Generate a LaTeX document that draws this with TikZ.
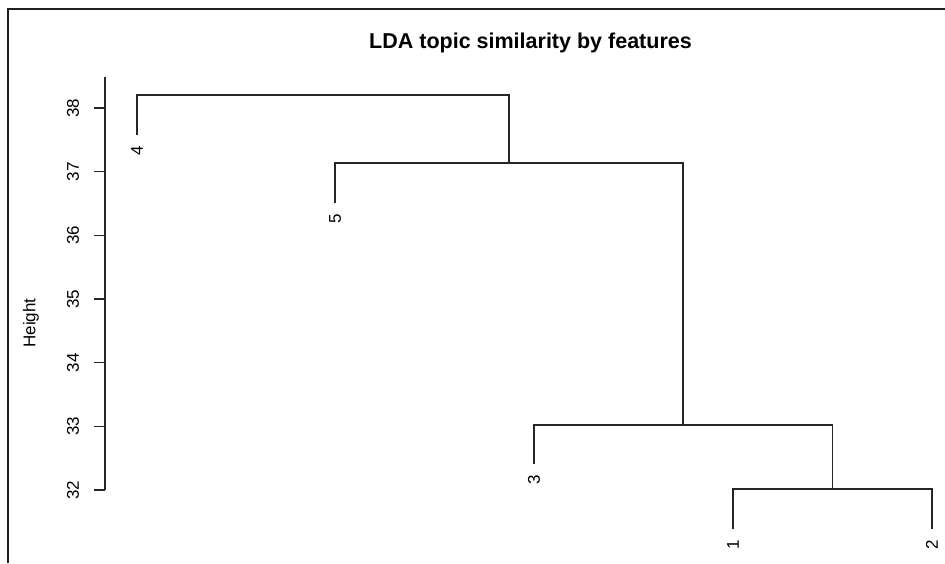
\documentclass[tikz,border=0pt]{standalone}
\usepackage{fontspec}
\setmainfont{Liberation Sans}
\usetikzlibrary{calc}
\tikzset{
  branch/.style={line width=1.2pt, black!85},
  axisline/.style={line width=1.2pt, black!85},
  framebox/.style={line width=2pt, black!88},
  ticklab/.style={rotate=90, font=\fontsize{17}{19}\selectfont, inner sep=0pt},
  leaflab/.style={rotate=90, anchor=east, font=\fontsize{17}{19}\selectfont, inner sep=0pt},
  titlelab/.style={font=\bfseries\fontsize{21.5}{25}\selectfont, inner sep=0pt, anchor=base}
}
\begin{document}
\begin{tikzpicture}[x=1pt, y=-1pt]
\useasboundingbox (0,0) rectangle (945,563);
\fill[white] (0,0) rectangle (945,563);

% figure frame (open to the right and bottom)
\draw[framebox] (8,563) -- (8,9) -- (945,9);

% title
\node[titlelab] (title) at (530.5,48.5) {LDA topic similarity by features};

% height axis
\draw[axisline] (105,77) -- (105,490);
\foreach \v/\yy in {38/108, 37/171.7, 36/235.3, 35/299, 34/362.7, 33/426.3, 32/490} {
  \draw[axisline] (94,\yy) -- (105,\yy);
  \node[ticklab] (tick\v) at (73,\yy) {\v};
}
\node[ticklab] (ylab) at (31,323) {Height};

% leaf ends
\coordinate (L4) at (137,135);
\coordinate (L5) at (335,203);
\coordinate (L3) at (534,464);
\coordinate (L1) at (733,529);
\coordinate (L2) at (932,529);
% merge points
\coordinate (root) at (323,95);
\coordinate (m5) at (509,163);
\coordinate (m3) at (683,425);
\coordinate (m1) at (832.5,489);

% dendrogram branches
\draw[branch] (L4) |- (root) -| (m5);
\draw[branch] (L5) |- (m5) -| (m3);
\draw[branch] (L3) |- (m3) -| (m1);
\draw[branch] (L1) |- (m1) -| (L2);

% leaf labels
\node[leaflab] (n4) at ([yshift=-11pt]L4) {4};
\node[leaflab] (n5) at ([yshift=-11pt]L5) {5};
\node[leaflab] (n3) at ([yshift=-11pt]L3) {3};
\node[leaflab] (n1) at ([yshift=-11pt]L1) {1};
\node[leaflab] (n2) at ([yshift=-11pt]L2) {2};
\end{tikzpicture}
\end{document}
